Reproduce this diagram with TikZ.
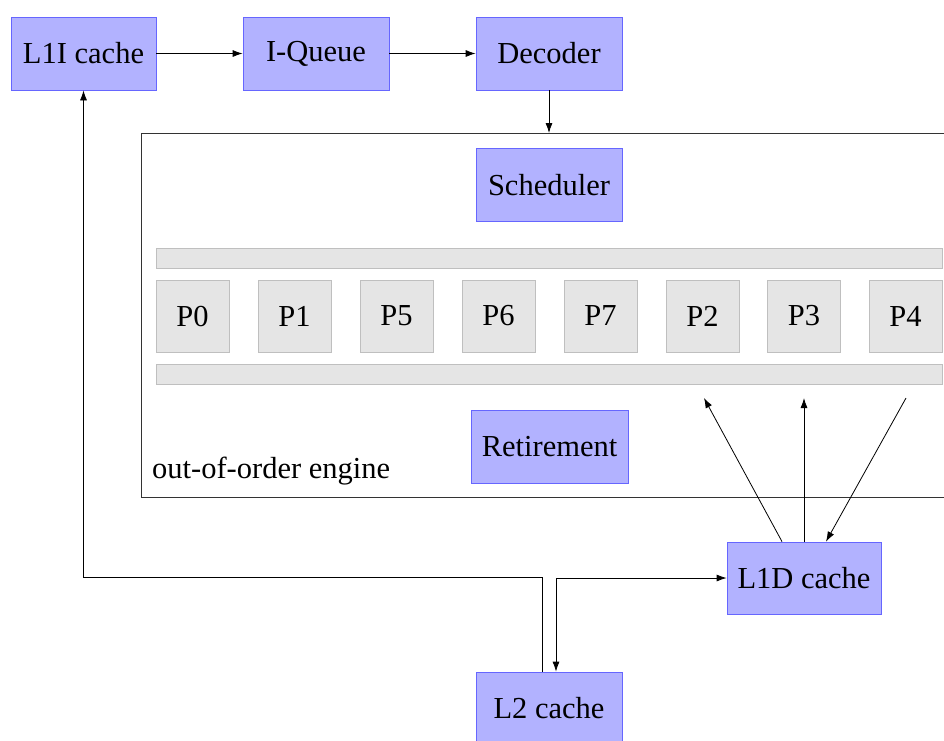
\documentclass[tikz,border=0pt]{standalone}
\usepackage{fontspec}
\setmainfont{Liberation Serif}
\usetikzlibrary{arrows.meta,positioning}
\begin{document}
\begin{tikzpicture}[x=1pt,y=1pt,
  every node/.style={font=\fontsize{30.5}{36}\selectfont, inner sep=0pt},
  unit/.style={draw=blue!60, fill=blue!30, line width=0.8pt, minimum height=73pt},
  port/.style={draw=gray!50, fill=gray!20, line width=0.8pt, minimum width=73pt, minimum height=72pt},
  bar/.style={draw=gray!50, fill=gray!20, line width=0.8pt, minimum width=786pt, minimum height=20pt},
  tip/.style={Latex[length=10pt,width=7pt]},
  link/.style={line width=0.8pt, -{Latex[length=10pt,width=7pt]}},
  both/.style={line width=0.8pt, {Latex[length=10pt,width=7pt]}-{Latex[length=10pt,width=7pt]}}
]
\useasboundingbox (0,0) rectangle (944,-740);
\clip (0,0) rectangle (944,-740);

% front end
\node[unit, minimum width=145pt] (l1i) at (83.5,-53.5) {L1I cache};
\node[unit, minimum width=146pt] (iq)  at (316,-53.5) {I-Queue};
\node[unit, minimum width=146pt] (dec) at (549,-53.5) {Decoder};

% out-of-order engine frame
\node[draw=black!80, line width=0.8pt, anchor=north west, minimum width=830pt, minimum height=364pt] (engine) at (141,-133) {};
\node[anchor=base west] (ooo) at (152,-478) {out-of-order engine};

\node[unit, minimum width=146pt] (sched) at (549,-185) {Scheduler};
\node[bar] (bartop) at (549,-258) {};
\node[bar] (barbot) at (549,-374) {};

\node[port] (p0) at (192.5,-316) {P0};
\node[port] (p1) at (294.5,-316) {P1};
\node[port] (p5) at (396.5,-316) {P5};
\node[port] (p6) at (498.5,-316) {P6};
\node[port] (p7) at (600.5,-316) {P7};
\node[port] (p2) at (702.5,-316) {P2};
\node[port] (p3) at (804,-316) {P3};
\node[port] (p4) at (905.5,-316) {P4};

\node[unit, minimum width=157pt] (ret) at (549.5,-446.5) {Retirement};

% memory side
\node[unit, minimum width=154pt, minimum height=72pt] (l1d) at (804,-578) {L1D cache};
\node[unit, minimum width=146pt] (l2) at (549,-708.5) {L2 cache};

\coordinate (p2in) at (704,-398);
\coordinate (p3in) at (804,-398);
\coordinate (p4out) at (906,-398);

% connectors
\draw[link] (l1i) -- (iq);
\draw[link] (iq) -- (dec);
\draw[link] (dec.south) -- (dec.south |- engine.north);

\draw[link] ([xshift=-22pt]l1d.north) -- (p2in);
\draw[link] (l1d.north) -- (p3in);
\draw[link] (p4out) -- ([xshift=22pt]l1d.north);

\draw[link] ([xshift=-7pt]l2.north) -- ++(0,94) -| (l1i.south);
\draw[both] ([xshift=7pt]l2.north) |- (l1d.west);
\end{tikzpicture}
\end{document}
